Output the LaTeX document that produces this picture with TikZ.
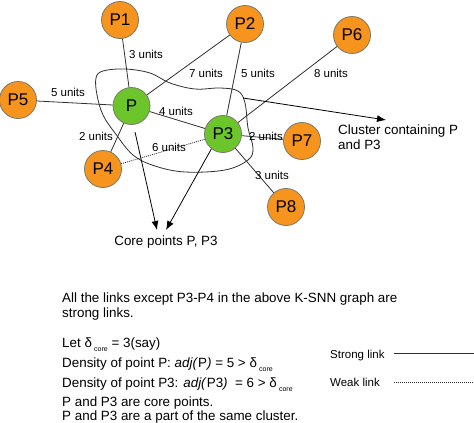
\documentclass[tikz,border=0pt]{standalone}
\usepackage{fontspec}
\setmainfont{Liberation Sans}
\usetikzlibrary{arrows.meta}
\definecolor{orangeFill}{HTML}{F7941E}
\definecolor{greenFill}{HTML}{6CC52B}
\definecolor{nodeBorder}{HTML}{7A7A6A}
\definecolor{lineGray}{HTML}{303030}
\tikzset{
  pt/.style={circle, draw=nodeBorder, line width=0.8pt, minimum size=37pt, inner sep=0pt, font=\fontsize{17}{17}\selectfont},
  onode/.style={pt, fill=orangeFill},
  gnode/.style={pt, fill=greenFill},
  link/.style={draw=lineGray, line width=0.8pt},
  weak/.style={draw=lineGray, line width=0.8pt, dash pattern=on 1pt off 1pt},
  lab/.style={font=\fontsize{11.5}{12}\selectfont, inner sep=0pt},
  txt/.style={font=\fontsize{13.4}{15}\selectfont, inner sep=0pt, anchor=base west},
  arr/.style={draw=black, line width=0.8pt, -{Latex[length=9pt,width=7pt]}},
}
\newcommand{\subcore}{\raisebox{-4pt}{\fontsize{7}{7}\selectfont core}}
\begin{document}
\begin{tikzpicture}[x=1pt,y=-1pt]
\useasboundingbox (0,0) rectangle (474,423);
% cluster outline
\draw[lineGray, line width=0.8pt] plot[smooth cycle, tension=0.6] coordinates {
 (96,78) (103,71) (125,69) (150,73) (170,83) (195,89) (220,88) (238,91) (245,103)
 (248,128) (253,148) (248,160) (225,170) (185,172) (155,166) (133,155) (115,133)
 (103,115) (97,95)};
% nodes
\node[onode] (P1) at (120,20) {P1};
\node[onode] (P2) at (245,24) {P2};
\node[onode] (P6) at (352,35) {P6};
\node[onode] (P5) at (18,100) {P5};
\node[gnode] (P) at (131.5,106) {P};
\node[gnode] (P3) at (223,134) {P3};
\node[onode] (P4) at (103,169) {P4};
\node[onode] (P7) at (302,141) {P7};
\node[onode] (P8) at (286,207) {P8};
% links
\draw[link] (P1) -- (P);
\draw[link] (P2) -- (P);
\draw[link] (P2) -- (P3);
\draw[link] (P6) -- (P3);
\draw[link] (P5) -- (P);
\draw[link] (P) -- (P3);
\draw[link] (P) -- (P4);
\draw[weak] (P4) -- (P3);
\draw[link] (P3) -- (P7);
\draw[link] (P3) -- (P8);
% edge labels
\node[lab] (l1) at (146,54) {3 units};
\node[lab] (l2) at (206,73) {7 units};
\node[lab] (l3) at (258,73) {5 units};
\node[lab] (l4) at (331,73) {8 units};
\node[lab] (l5) at (68,92) {5 units};
\node[lab] (l6) at (176,111) {4 units};
\node[lab] (l7) at (96,136) {2 units};
\node[lab] (l8) at (169,147) {6 units};
\node[lab] (l9) at (266,136) {2 units};
\node[lab] (l10) at (272,175) {3 units};
% cluster annotation
\coordinate (cs) at (243,98);
\coordinate (ce) at (386,120);
\draw[arr] (cs) -- (ce);
\node[font=\fontsize{13.4}{15}\selectfont, align=left, anchor=north west, inner sep=0pt] (clu) at (338,125) {Cluster containing P\\and P3};
% core points annotation
\node[font=\fontsize{13.4}{15}\selectfont, inner sep=0pt] (core) at (166,242) {Core points P, P3};
\coordinate (a1s) at (135,132);
\coordinate (a1e) at (157,230);
\coordinate (a2e) at (166,230);
\draw[arr] (a1s) -- (a1e);
\draw[arr] (P3.-128) -- (a2e);
% bottom text
\node[txt] (t1) at (62,302) {All the links except P3-P4 in the above K-SNN graph are};
\node[txt] (t2) at (62,317) {strong links.};
\node[txt] (t3) at (62,347) {Let δ\,\subcore{} = 3(say)};
\node[txt] (t4) at (62,367) {Density of point P: \textit{adj(}P\textit{)} = 5 > δ\,\subcore};
\node[txt] (t5) at (62,387) {Density of point P3: \textit{adj(}P3\textit{)} \ = 6 > δ\,\subcore};
\node[txt] (t6) at (62,406) {P and P3 are core points.};
\node[txt] (t7) at (62,420) {P and P3 are a part of the same cluster.};
% legend
\node[font=\fontsize{11.5}{12}\selectfont, inner sep=0pt, anchor=base west] (ls) at (330,358) {Strong link};
\node[font=\fontsize{11.5}{12}\selectfont, inner sep=0pt, anchor=base west] (lw) at (330,386) {Weak link};
\coordinate (lsa) at (394,353);
\coordinate (lsb) at (474,353);
\coordinate (lwa) at (394,382);
\coordinate (lwb) at (474,382);
\draw[link] (lsa) -- (lsb);
\draw[weak, line width=0.6pt] (lwa) -- (lwb);
\end{tikzpicture}
\end{document}
